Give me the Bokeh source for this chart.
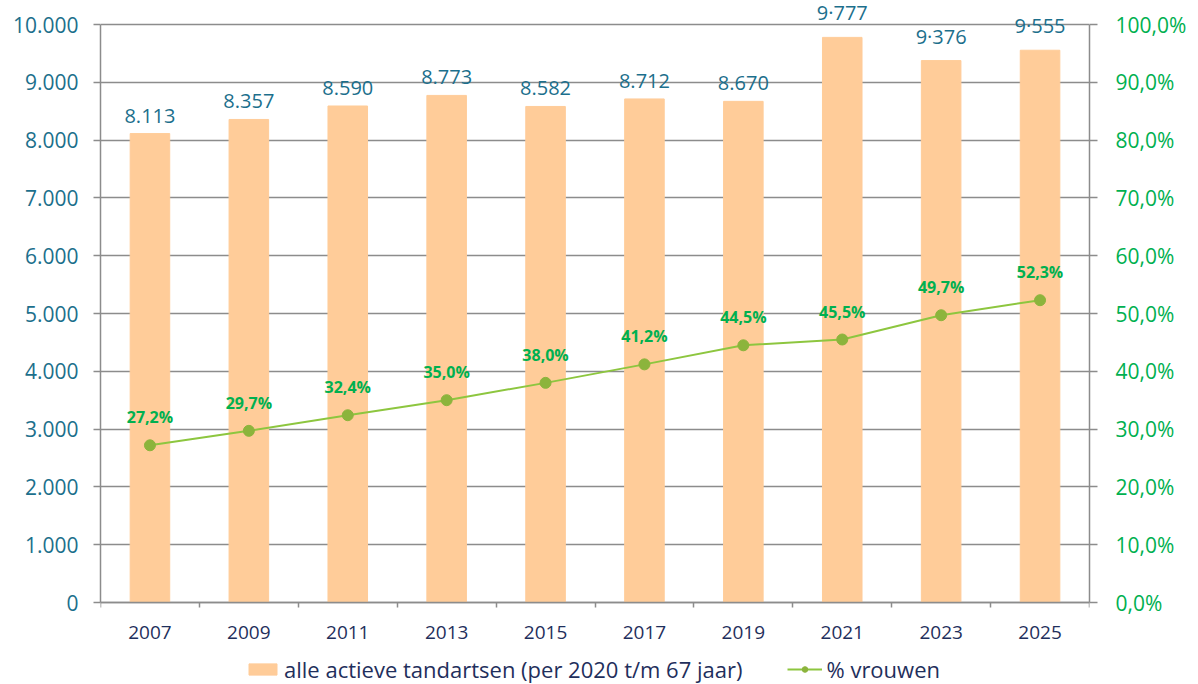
from bokeh.plotting import figure
from bokeh.models import (Range1d, LinearAxis, FixedTicker, ColumnDataSource, LabelSet,
                          Legend, LegendItem)
from bokeh.core.properties import value
from bokeh.embed import file_html
from bokeh.resources import INLINE

# ---- data ----
years = ["2007", "2009", "2011", "2013", "2015", "2017", "2019", "2021", "2023", "2025"]
dentists = [8113, 8357, 8590, 8773, 8582, 8712, 8670, 9777, 9376, 9555]
dentist_labels = ["8.113", "8.357", "8.590", "8.773", "8.582", "8.712", "8.670", "9·777", "9·376", "9·555"]
women_pct = [27.2, 29.7, 32.4, 35.0, 38.0, 41.2, 44.5, 45.5, 49.7, 52.3]
women_labels = ["27,2%", "29,7%", "32,4%", "35,0%", "38,0%", "41,2%", "44,5%", "45,5%", "49,7%", "52,3%"]
left_ticks = [0, 1000, 2000, 3000, 4000, 5000, 6000, 7000, 8000, 9000, 10000]
left_tick_labels = ["0", "1.000", "2.000", "3.000", "4.000", "5.000", "6.000", "7.000", "8.000", "9.000", "10.000"]
right_ticks = [0, 10, 20, 30, 40, 50, 60, 70, 80, 90, 100]
right_tick_labels = ["0,0%", "10,0%", "20,0%", "30,0%", "40,0%", "50,0%", "60,0%", "70,0%", "80,0%", "90,0%", "100,0%"]
series_bar = "alle actieve tandartsen (per 2020 t/m 67 jaar)"
series_line = "% vrouwen"

FONT = "Open Sans"
TEAL = "#1c6f8c"
GREEN_TXT = "#00b050"
NAVY = "#1f2f5c"
GRID = "#8c8c8c"

# layout in pixels: value area 578px tall, 24px head room, 82px below zero for x labels + legend
PLOT_H, TOP_PAD, BOT_PAD = 578.0, 24.0, 82.0
FRAME_H = int(PLOT_H + TOP_PAD + BOT_PAD)

n = len(years)
xs = [i + 0.5 for i in range(n)]
src = ColumnDataSource(dict(x=xs, cnt=dentists, cnt_lbl=dentist_labels, pct=women_pct, pct_lbl=women_labels))

ymax_l = left_ticks[-1]
ymax_r = right_ticks[-1]
p = figure(frame_width=989, frame_height=FRAME_H,
           x_range=Range1d(0, n),
           y_range=Range1d(-ymax_l * BOT_PAD / PLOT_H, ymax_l * (1 + TOP_PAD / PLOT_H)),
           output_backend="svg", toolbar_location=None, y_axis_location=None, x_axis_location=None,
           min_border_left=100, min_border_right=101, min_border_top=0, min_border_bottom=0)
p.extra_y_ranges = {"pct": Range1d(-ymax_r * BOT_PAD / PLOT_H, ymax_r * (1 + TOP_PAD / PLOT_H))}
p.outline_line_color = None
p.background_fill_color = "white"
p.border_fill_color = "white"

# left axis
la = LinearAxis(ticker=FixedTicker(ticks=left_ticks), bounds=(left_ticks[0], left_ticks[-1]))
la.major_label_overrides = {t: l for t, l in zip(left_ticks, left_tick_labels)}
la.major_label_text_color = TEAL
la.major_label_text_font = FONT
la.major_label_text_font_size = "21px"
la.axis_line_color = GRID
la.axis_line_width = 1.5
la.major_tick_line_color = GRID
la.major_tick_line_width = 1.5
la.major_tick_out = 7
la.major_tick_in = 0
la.minor_tick_line_color = None
la.major_label_standoff = 15
p.add_layout(la, "left")

# right axis
ra = LinearAxis(y_range_name="pct", ticker=FixedTicker(ticks=right_ticks),
                bounds=(right_ticks[0], right_ticks[-1]))
ra.major_label_overrides = {t: l for t, l in zip(right_ticks, right_tick_labels)}
ra.major_label_text_color = GREEN_TXT
ra.major_label_text_font = FONT
ra.major_label_text_font_size = "21px"
ra.axis_line_color = GRID
ra.axis_line_width = 1.5
ra.major_tick_line_color = GRID
ra.major_tick_line_width = 1.5
ra.major_tick_out = 8
ra.major_tick_in = 0
ra.minor_tick_line_color = None
ra.major_label_standoff = 18
p.add_layout(ra, "right")

# x axis, pinned at value 0
xa = LinearAxis(fixed_location=0, ticker=FixedTicker(ticks=xs, minor_ticks=list(range(n + 1))))
xa.major_label_overrides = {x: y for x, y in zip(xs, years)}
xa.major_label_text_color = NAVY
xa.major_label_text_font = FONT
xa.major_label_text_font_size = "19px"
xa.axis_line_color = GRID
xa.axis_line_width = 1.5
xa.major_tick_line_color = None
xa.minor_tick_line_color = GRID
xa.minor_tick_line_width = 1.5
xa.minor_tick_out = 5
xa.minor_tick_in = 0
xa.major_label_standoff = 17
p.add_layout(xa, "below")

p.xgrid.grid_line_color = None
p.ygrid.ticker = FixedTicker(ticks=left_ticks)
p.ygrid.grid_line_color = GRID
p.ygrid.grid_line_width = 1.5

bars = p.vbar(x="x", top="cnt", width=0.4, source=src, fill_color="#ffcc99", line_color="#ffcc99")
line = p.line(x="x", y="pct", source=src, y_range_name="pct", line_color="#8dc63f", line_width=2)
dots = p.scatter(x="x", y="pct", source=src, y_range_name="pct", size=11,
                 fill_color="#8cb43c", line_color="#8cb43c")

p.add_layout(LabelSet(x="x", y="cnt", text="cnt_lbl", source=src, text_align="center",
                      text_baseline="bottom", y_offset=11, text_color=TEAL,
                      text_font=value(FONT), text_font_size=value("20px")))
p.add_layout(LabelSet(x="x", y="pct", text="pct_lbl", source=src, y_range_name="pct",
                      text_align="center", text_baseline="bottom", y_offset=17,
                      text_color=GREEN_TXT, text_font=value(FONT), text_font_size=value("16px"),
                      text_font_style=value("bold")))

legend = Legend(items=[LegendItem(label=series_bar, renderers=[bars]),
                       LegendItem(label=series_line, renderers=[line, dots])],
                orientation="horizontal", location=(145, 0),
                label_text_font=FONT, label_text_font_size="22px", label_text_color=NAVY,
                glyph_width=35, glyph_height=14, spacing=45, label_standoff=4,
                padding=0, margin=0,
                border_line_color=None, background_fill_alpha=0)
p.add_layout(legend, "center")

open("out.html", "w").write(file_html(p, INLINE))
